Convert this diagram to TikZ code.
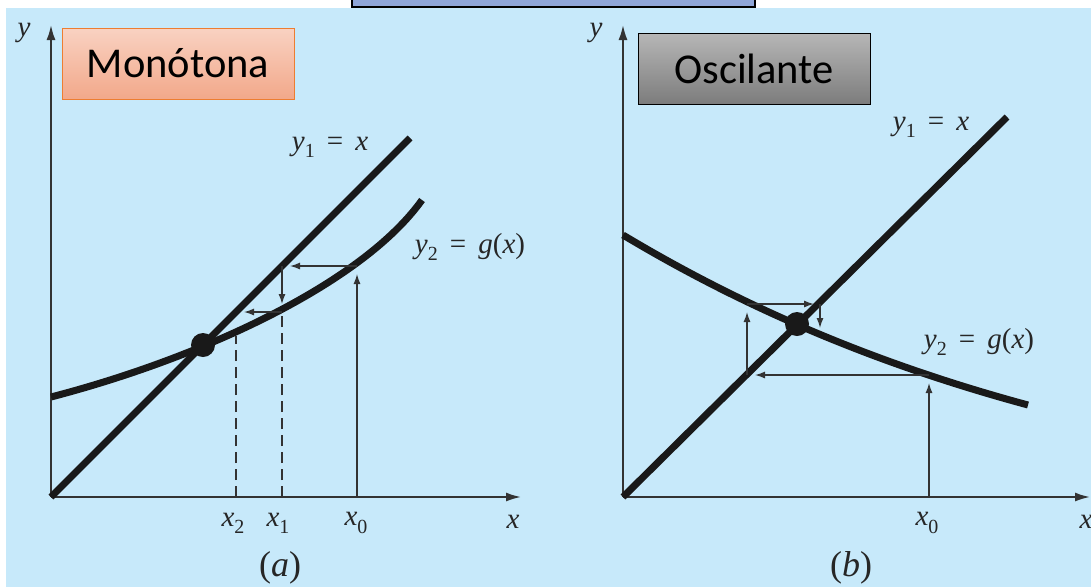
\documentclass[tikz,border=0pt]{standalone}
\usepackage{fontspec}
\usepackage{xcolor}
\usepackage{tikz}
\usetikzlibrary{arrows.meta,positioning,calc}

\newfontfamily\calibri{Carlito}
\newfontfamily\timesfont{Liberation Serif}
\newcommand{\lowidx}[1]{\raisebox{-0.25em}{\fontsize{20}{22}\selectfont #1}}

\definecolor{panelblue}{RGB}{199,233,250}
\definecolor{topblue}{RGB}{143,166,216}
\definecolor{salmonA}{RGB}{249,210,194}
\definecolor{salmonB}{RGB}{242,168,138}
\definecolor{orangeline}{RGB}{237,125,49}
\definecolor{greyA}{RGB}{182,182,182}
\definecolor{greyB}{RGB}{124,124,124}

\begin{document}
\begin{tikzpicture}[
    x=1pt,y=1pt,
    >=Latex,
    axis/.style={draw=black!80, line width=1.8pt, -{Latex[length=15pt,width=9pt]}},
    curve/.style={draw=black!90, line width=7pt},
    guide/.style={draw=black!80, line width=1.3pt},
    guidearrow/.style={guide, -{Latex[length=10pt,width=7pt]}, shorten >=8pt},
    dashguide/.style={guide, dash pattern=on 11pt off 6pt},
    fixpt/.style={circle, fill=black!90, inner sep=0pt, minimum size=24pt},
    mlabel/.style={font=\timesfont\fontsize{29}{32}\selectfont, text=black!85},
    caption/.style={font=\timesfont\fontsize{36}{40}\selectfont, text=black!85},
    tagbox/.style={
        draw,
        line width=0.9pt,
        minimum width=232pt,
        minimum height=71pt,
        font=\calibri\fontsize{42.5}{46}\selectfont
    }
]

% ===== canvas =====
\clip (0,0) rectangle (1091,-587);
\fill[white] (0,0) rectangle (1091,-587);
\fill[panelblue] (6,-8) rectangle (1091,-587);
\draw[fill=topblue, line width=1.2pt] (352,14) rectangle (755,-7);

% ===== panel (a): monotone =====
\def\oxA{51} \def\oyA{-497}

\coordinate (oA) at (\oxA,\oyA);
\coordinate (yA) at (\oxA,-25);
\coordinate (xA) at (521,\oyA);
\draw[axis] (oA) -- (yA);
\draw[axis] (oA) -- (xA);

% curves
\coordinate (endA) at (410,-138);
\draw[curve] (oA) -- (endA);
\draw[curve] (51,-397) .. controls (201,-358) and (362,-284) .. (422,-200);

% iteration steps
\coordinate (x0A) at (357,\oyA);
\coordinate (g0A) at (357,-266);
\coordinate (l1A) at (282,-266);
\coordinate (x1A) at (282,\oyA);
\coordinate (g1A) at (282,-312);
\coordinate (l2A) at (236,-312);
\coordinate (x2A) at (236,\oyA);
\coordinate (g2A) at (236,-336);

\draw[dashguide] (x1A) -- (g1A);
\draw[dashguide] (x2A) -- (g2A);
\draw[guidearrow] (x0A) -- (g0A);
\draw[guidearrow] (g0A) -- (l1A);
\draw[guidearrow] (l1A) -- (g1A);
\draw[guidearrow] (g1A) -- (l2A);

\node[fixpt] (fixA) at (203,-345) {};

% labels
\node[mlabel] (ylabA) at (24,-33) {\textit{y}};
\node[mlabel] (xlabA) at (513,-522) {\textit{x}};
\node[mlabel] (x2lab) at (233,-523) {\textit{x}\lowidx{2}};
\node[mlabel] (x1lab) at (278,-523) {\textit{x}\lowidx{1}};
\node[mlabel] (x0labA) at (356,-523) {\textit{x}\lowidx{0}};
\node[mlabel] (yoneA) at (330,-147) {\textit{y}\lowidx{1} \,=\, \textit{x}};
\node[mlabel] (ytwoA) at (470,-247) {\textit{y}\lowidx{2} \,=\, \textit{g}(\textit{x})};
\node[caption] (capA) at (280,-568) {(\textit{a})};

\node[tagbox, draw=orangeline, top color=salmonA, bottom color=salmonB]
  (mono) at (178,-63.5) {Monótona};

% ===== panel (b): oscillating =====
\def\oxB{623} \def\oyB{-497}

\coordinate (oB) at (\oxB,\oyB);
\coordinate (yB) at (\oxB,-25);
\coordinate (xB) at (1090,\oyB);
\draw[axis] (oB) -- (yB);
\draw[axis] (oB) -- (xB);

% curves
\coordinate (endB) at (1007,-117);
\draw[curve] (oB) -- (endB);
\draw[curve] (623,-235) .. controls (758,-316) and (893,-368.5) .. (1028,-405);

% iteration steps
\coordinate (x0B) at (929,\oyB);
\coordinate (g0B) at (929,-375);
\coordinate (l1B) at (747,-375);
\coordinate (g1B) at (747,-304);
\coordinate (l2B) at (820,-304);
\coordinate (g2B) at (820,-334);

\draw[guidearrow] (x0B) -- (g0B);
\draw[guidearrow] (g0B) -- (l1B);
\draw[guidearrow] (l1B) -- (g1B);
\draw[guidearrow, shorten >=6pt] (g1B) -- (l2B);
\draw[guidearrow, shorten >=6pt] (l2B) -- (g2B);

\node[fixpt] (fixB) at (797,-324) {};

% labels
\node[mlabel] (ylabB) at (596,-33) {\textit{y}};
\node[mlabel] (xlabB) at (1086,-522) {\textit{x}};
\node[mlabel] (x0labB) at (927,-523) {\textit{x}\lowidx{0}};
\node[mlabel] (yoneB) at (931,-127) {\textit{y}\lowidx{1} \,=\, \textit{x}};
\node[mlabel] (ytwoB) at (979,-342) {\textit{y}\lowidx{2} \,=\, \textit{g}(\textit{x})};
\node[caption] (capB) at (851,-568) {(\textit{b})};

\node[tagbox, draw=black, top color=greyA, bottom color=greyB]
  (osci) at (754,-69) {Oscilante};
\end{tikzpicture}
\end{document}
